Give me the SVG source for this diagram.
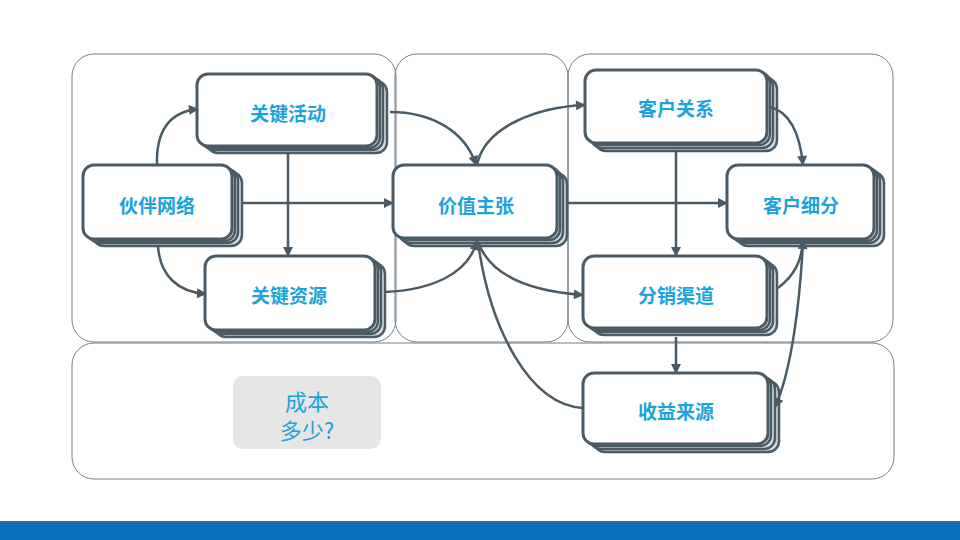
<svg xmlns="http://www.w3.org/2000/svg" width="960" height="540" viewBox="0 0 960 540">
<defs>
<style>
.panel{fill:none;stroke:#737f87;stroke-width:1}
.main{fill:#ffffff;stroke:#4a5b66;stroke-width:3}
.layer{fill:#d3dee6;stroke:#4a5b66;stroke-width:2.5}
.lbl{font-family:"Noto Sans CJK SC","Noto Sans",sans-serif;font-size:19px;font-weight:bold;fill:#1ba3dc;text-anchor:middle;dominant-baseline:central}
.cost{font-family:"Noto Sans CJK SC","Noto Sans",sans-serif;font-size:22px;fill:#1ba3dc;text-anchor:middle;dominant-baseline:central}
.con{fill:none;stroke:#4a5b66;stroke-width:2.5}
.arr{marker-end:url(#arr)}
</style>
<marker id="arr" viewBox="0 0 10 10" refX="9" refY="5" markerWidth="12" markerHeight="10" markerUnits="userSpaceOnUse" orient="auto">
<path d="M0,0 L10,5 L0,10 z" fill="#4a5b66"/>
</marker>
</defs>
<rect width="960" height="540" fill="#ffffff"/>
<g id="panels">
<rect class="panel" x="72" y="54" width="324" height="288" rx="22"/>
<rect class="panel" x="395" y="54" width="173" height="288" rx="22"/>
<rect class="panel" x="568" y="54" width="325" height="288" rx="22"/>
<rect class="panel" x="72" y="343" width="822" height="136" rx="22"/>
</g>
<rect x="0" y="521" width="960" height="19" fill="#0a70bd"/>
<rect x="0" y="521" width="960" height="2" fill="#2c6c9e"/>
<g id="cost">
<rect x="233" y="376" width="148" height="73" rx="10" fill="#e6e6e6"/>
<text class="cost" x="307" y="400">成本</text>
<text class="cost" x="307" y="429">多少?</text>
</g>
<g id="n-activities">
<rect class="layer" x="207" y="81" width="180" height="72" rx="11"/>
<rect class="layer" x="203" y="78" width="180" height="72" rx="11"/>
<rect class="layer" x="200" y="76" width="180" height="72" rx="11"/>
<rect class="main" x="197" y="74" width="180" height="72" rx="11"/>
<text class="lbl" x="288" y="112">关键活动</text>
</g>
<g id="n-partners">
<rect class="layer" x="93" y="172" width="149" height="74" rx="11"/>
<rect class="layer" x="89" y="169" width="149" height="74" rx="11"/>
<rect class="layer" x="86" y="167" width="149" height="74" rx="11"/>
<rect class="main" x="83" y="165" width="149" height="74" rx="11"/>
<text class="lbl" x="157" y="204">伙伴网络</text>
</g>
<g id="n-resources">
<rect class="layer" x="215" y="263" width="170" height="74" rx="11"/>
<rect class="layer" x="211" y="260" width="170" height="74" rx="11"/>
<rect class="layer" x="208" y="258" width="170" height="74" rx="11"/>
<rect class="main" x="205" y="256" width="170" height="74" rx="11"/>
<text class="lbl" x="289" y="294">关键资源</text>
</g>
<g id="n-value">
<rect class="layer" x="403" y="173" width="164" height="73" rx="11"/>
<rect class="layer" x="399" y="170" width="164" height="73" rx="11"/>
<rect class="layer" x="396" y="167" width="164" height="73" rx="11"/>
<rect class="main" x="393" y="165" width="164" height="73" rx="11"/>
<text class="lbl" x="476" y="204">价值主张</text>
</g>
<g id="n-relations">
<rect class="layer" x="595" y="78" width="182" height="73" rx="11"/>
<rect class="layer" x="591" y="75" width="182" height="73" rx="11"/>
<rect class="layer" x="588" y="72" width="182" height="73" rx="11"/>
<rect class="main" x="585" y="70" width="182" height="73" rx="11"/>
<text class="lbl" x="676" y="107">客户关系</text>
</g>
<g id="n-segments">
<rect class="layer" x="737" y="172" width="147" height="74" rx="11"/>
<rect class="layer" x="733" y="169" width="147" height="74" rx="11"/>
<rect class="layer" x="730" y="167" width="147" height="74" rx="11"/>
<rect class="main" x="727" y="165" width="147" height="74" rx="11"/>
<text class="lbl" x="801" y="204">客户细分</text>
</g>
<g id="n-channels">
<rect class="layer" x="593" y="263" width="184" height="72" rx="11"/>
<rect class="layer" x="589" y="260" width="184" height="72" rx="11"/>
<rect class="layer" x="586" y="258" width="184" height="72" rx="11"/>
<rect class="main" x="583" y="256" width="184" height="72" rx="11"/>
<text class="lbl" x="676" y="294">分销渠道</text>
</g>
<g id="n-revenue">
<rect class="layer" x="594" y="381" width="185" height="71" rx="11"/>
<rect class="layer" x="590" y="378" width="185" height="71" rx="11"/>
<rect class="layer" x="586" y="375" width="185" height="71" rx="11"/>
<rect class="main" x="583" y="373" width="185" height="71" rx="11"/>
<text class="lbl" x="676" y="410">收益来源</text>
</g>
<g id="connectors">
<path class="con arr" d="M157,165 C156,132 168,112 198,109"/>
<path class="con arr" d="M158,246 C160,276 178,292 206,294"/>
<path class="con arr" d="M242,203 L393,203"/>
<path class="con arr" d="M288,153 L288,256"/>
<path class="con arr" d="M390,112 C430,112 465,130 476,165"/>
<path class="con arr" d="M477,165 C485,125 540,107 585,105"/>
<path class="con arr" d="M385,292 C430,290 468,275 477,241"/>
<path class="con arr" d="M478,242 C492,280 540,292 583,295"/>
<path class="con" d="M478,242 C490,330 530,405 583,408"/>
<path class="con arr" d="M567,203 L727,203"/>
<path class="con arr" d="M676,151 L676,256"/>
<path class="con arr" d="M770,107 C790,112 800,135 803,165"/>
<path class="con arr" d="M778,288 C795,275 802,260 803,240"/>
<path class="con arr" d="M676,337 L676,373"/>
<path class="con arr" d="M803,242 C800,300 792,370 775,407"/>
</g>
</svg>
